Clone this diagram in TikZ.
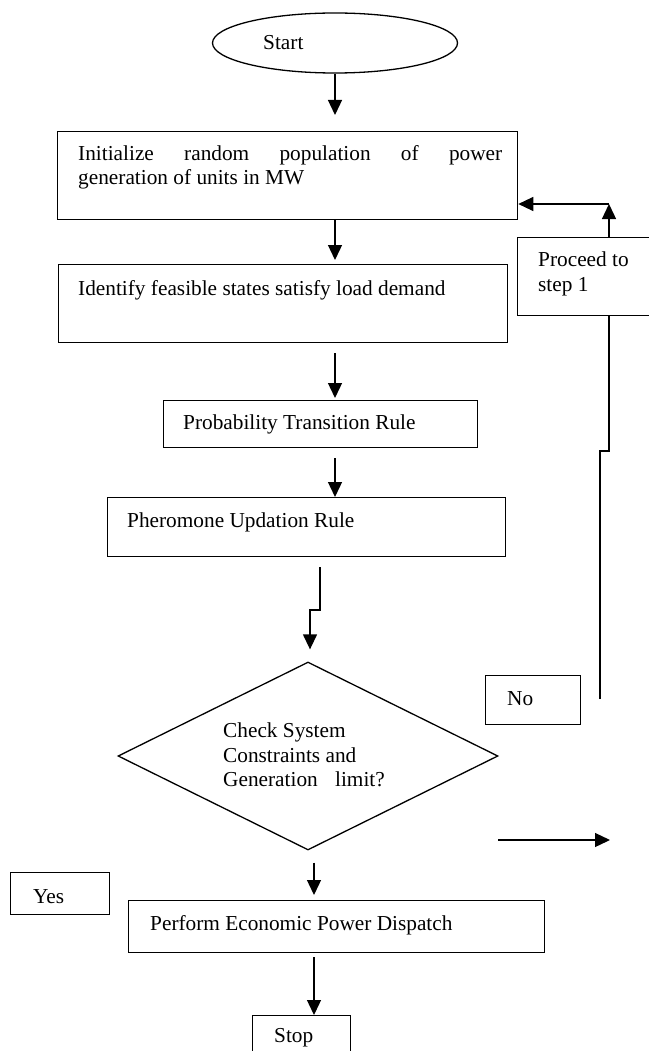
\documentclass[tikz,border=0pt]{standalone}
\usepackage{fontspec}
\setmainfont{Liberation Serif}
\usetikzlibrary{arrows.meta,shapes.geometric}
\begin{document}
\begin{tikzpicture}[x=1pt,y=-1pt,
  every node/.style={font=\fontsize{21.3}{24.5}\selectfont},
  ln/.style={line width=1.3pt},
  box/.style={draw, ln, rectangle, inner sep=0pt, anchor=north west},
  txt/.style={inner sep=0pt, anchor=west, align=left},
  arr/.style={ln, -{Triangle[length=15pt,width=14pt]}}]
\useasboundingbox (0,0) rectangle (648,1051);
\fill[white] (0,0) rectangle (648,1051);

% shapes
\node[draw, ln, ellipse, inner sep=0pt, minimum width=245, minimum height=60] (start) at (335,43) {};
\node[box, minimum width=460, minimum height=88] (b1) at (57,131) {};
\node[box, minimum width=449, minimum height=78] (b2) at (58,264) {};
\node[box, minimum width=314, minimum height=47] (b3) at (163,400) {};
\node[box, minimum width=398, minimum height=59] (b4) at (107,497) {};
\node[draw, ln, diamond, inner sep=0pt, minimum width=380, minimum height=188] (dec) at (308,756) {};
\node[box, minimum width=416, minimum height=52] (perf) at (128,900) {};
\node[box, minimum width=98, minimum height=50] (stop) at (252,1015) {};
\node[box, minimum width=135, minimum height=78] (proc) at (517,237) {};
\node[box, minimum width=95, minimum height=49] (nobox) at (485,675) {};
\node[box, minimum width=99, minimum height=42] (yesbox) at (10,872) {};

% texts
\node[txt] (tstart) at (263,43) {Start};
\node[txt] (t1) at (78,167.5) {\makebox[424pt][s]{Initialize random population of power}\\generation of units in MW};
\node[txt] (t2) at (78,290) {Identify feasible states satisfy load demand};
\node[txt] (t3) at (183,424) {Probability Transition Rule};
\node[txt] (t4) at (127,522) {Pheromone Updation Rule};
\node[txt] (tdec) at (223,755) {Check System\\Constraints and\\Generation\hspace{12pt} limit?};
\node[txt] (tperf) at (150,925) {Perform Economic Power Dispatch};
\node[txt] (tstop) at (274,1038) {Stop};
\node[txt] (tproc) at (538,274) {Proceed to\\step 1};
\node[txt] (tno) at (507,699) {No};
\node[txt] (tyes) at (33,897) {Yes};

% helper coordinates
\coordinate (pj) at (320,567);
\coordinate (pk) at (320,610);
\coordinate (pl) at (310,610);
\coordinate (cx) at (314,0);
\coordinate (ra1) at (498,840);
\coordinate (ra2) at (610,840);
\coordinate (n1) at (600,699);
\coordinate (n2) at (600,451);
\coordinate (n3) at (609,451);
\coordinate (fb) at (609,204);

% connectors
\draw[arr, shorten >=16] (start.south) -- (start.south |- b1.north);
\draw[arr, shorten >=4] (start.south |- b1.south) -- (start.south |- b2.north);
\draw[arr, shorten <=10, shorten >=2] (start.south |- b2.south) -- (start.south |- b3.north);
\draw[arr, shorten <=10] (start.south |- b3.south) -- (start.south |- b4.north);
\draw[arr, shorten >=12] (pj) -- (pk) -- (pl) -- (pl |- dec.north);
\draw[arr, shorten <=12, shorten >=5] (cx |- dec.south) -- (cx |- perf.north);
\draw[arr, shorten <=4] (cx |- perf.south) -- (cx |- stop.north);
\draw[arr] (ra1) -- (ra2);
\draw[ln] (n1) -- (n2) -- (n3) -- (n3 |- proc.south);
\draw[arr] (n3 |- proc.north) -- (fb);
\draw[arr] (fb) -- (fb -| b1.east);
\end{tikzpicture}
\end{document}
